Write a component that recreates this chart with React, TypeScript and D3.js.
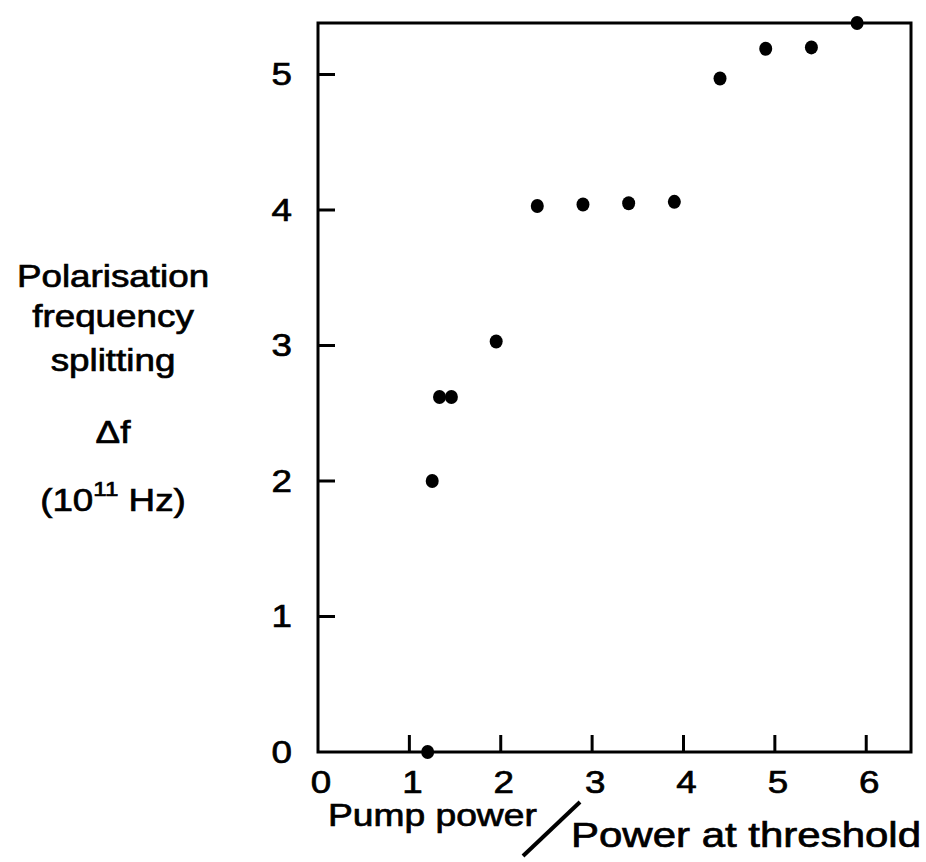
import { useEffect, useRef } from 'react'
import * as d3 from 'd3'

// pump power / threshold power
const pumpRatio = [1.2, 1.25, 1.33, 1.46, 1.95, 2.4, 2.9, 3.4, 3.9, 4.4, 4.9, 5.4, 5.9]
// polarisation frequency splitting (10^11 Hz)
const splitting = [0, 2.0, 2.62, 2.62, 3.03, 4.03, 4.04, 4.05, 4.06, 4.97, 5.19, 5.2, 5.38]

const xTicks = [0, 1, 2, 3, 4, 5, 6]
const yTicks = [0, 1, 2, 3, 4, 5]
const yTitleLines = ['Polarisation', 'frequency', 'splitting', 'Δf']

const FONT = '"Liberation Sans", Arial, Helvetica, sans-serif'

export default function App() {
  const svgRef = useRef<SVGSVGElement>(null)

  useEffect(() => {
    if (!svgRef.current) return
    const svg = d3.select(svgRef.current)
    svg.selectAll('*').remove()

    const left = 318
    const right = 911
    const top = 23
    const bottom = 752

    const x = d3.scaleLinear().domain([0, 6.49]).range([left, right])
    const y = d3.scaleLinear().domain([0, 5.38]).range([bottom, top])

    // the scanned lettering is wider and heavier than plain Arial
    const label = (tx: number, ty: number, text: string, size: number, anchor = 'middle', stretch = 1.15) =>
      svg.append('text')
        .attr('transform', `translate(${tx},${ty}) scale(${stretch},1)`)
        .attr('text-anchor', anchor)
        .attr('font-family', FONT)
        .attr('font-size', size)
        .attr('fill', '#000')
        .attr('stroke', '#000')
        .attr('stroke-width', 0.7)
        .text(text)

    // frame
    svg.append('rect')
      .attr('x', left)
      .attr('y', top)
      .attr('width', right - left)
      .attr('height', bottom - top)
      .attr('fill', 'none')
      .attr('stroke', '#000')
      .attr('stroke-width', 3)

    // inward ticks
    xTicks.filter((d) => d > 0).forEach((d) => {
      svg.append('line')
        .attr('x1', x(d)).attr('x2', x(d))
        .attr('y1', bottom).attr('y2', bottom - 17)
        .attr('stroke', '#000').attr('stroke-width', 3)
    })
    yTicks.filter((d) => d > 0).forEach((d) => {
      svg.append('line')
        .attr('x1', left).attr('x2', left + 17)
        .attr('y1', y(d)).attr('y2', y(d))
        .attr('stroke', '#000').attr('stroke-width', 3)
    })

    xTicks.forEach((d) => label(x(d) + 3, 793, String(d), 32))
    yTicks.forEach((d) => label(292, y(d) + 11, String(d), 32, 'end'))

    // points
    svg.append('g')
      .selectAll('ellipse')
      .data(pumpRatio.map((p, i) => ({ p, s: splitting[i] })))
      .join('ellipse')
      .attr('cx', (d) => x(d.p))
      .attr('cy', (d) => y(d.s))
      .attr('rx', 6.5)
      .attr('ry', 7)
      .attr('fill', '#000')

    // y title
    const yBase = [287, 327, 371, 443]
    yTitleLines.forEach((t, i) => label(113, yBase[i], t, 32))
    const unit = svg.append('text')
      .attr('transform', `translate(113,511) scale(1.15,1)`)
      .attr('text-anchor', 'middle')
      .attr('font-family', FONT)
      .attr('font-size', 32)
      .attr('stroke', '#000')
      .attr('stroke-width', 0.7)
    unit.append('tspan').text('(10')
    unit.append('tspan').attr('font-size', 21).attr('dy', -15).text('11')
    unit.append('tspan').attr('dy', 15).text(' Hz)')

    // x title
    label(328, 826, 'Pump power', 31, 'start', 1.2)
    label(571, 847, 'Power at threshold', 35, 'start', 1.2)
    svg.append('line')
      .attr('x1', 523).attr('y1', 856)
      .attr('x2', 580).attr('y2', 802)
      .attr('stroke', '#000').attr('stroke-width', 4)
  }, [])

  return <svg ref={svgRef} width={926} height={862} style={{ position: 'absolute', left: 0, top: 0, background: '#fff' }} />
}
